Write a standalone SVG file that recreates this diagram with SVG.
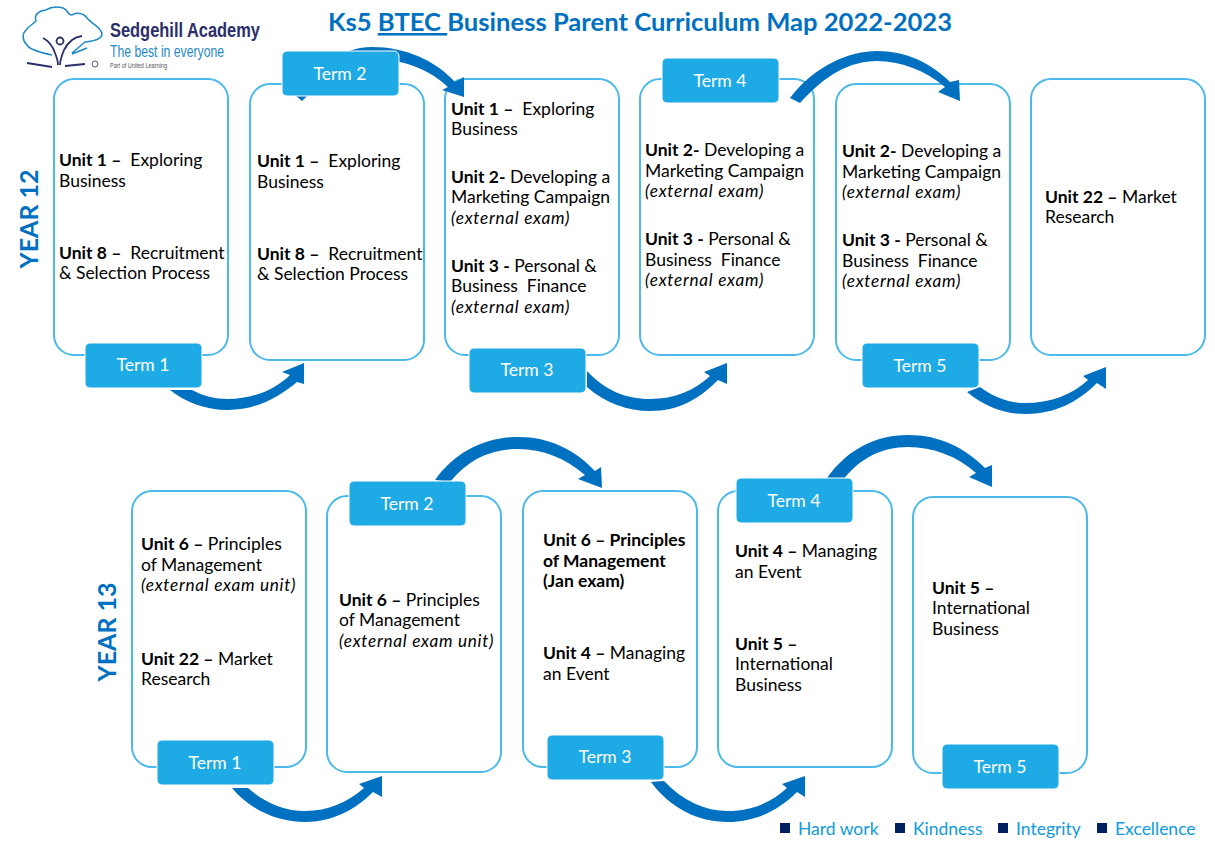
<svg xmlns="http://www.w3.org/2000/svg" width="1215" height="846" viewBox="0 0 1215 846" font-family="Lato, 'Liberation Sans', sans-serif">
<style>
.box{fill:#fff;stroke:#4bb9e9;stroke-width:2}
.term{fill:#1eaae5;stroke:#fff;stroke-width:1}
.tl{fill:#fff;font-size:17.6px;text-anchor:middle}
.t{fill:#000;font-size:17.5px;white-space:pre}
.b{font-weight:700}
.i{font-style:italic;font-size:17.2px;letter-spacing:.72px}
.arr{fill:#0070c0}
.yr{fill:#0070c0;font-size:25px;font-weight:700;text-anchor:middle}
.foot{fill:#0f9ae0;font-size:17.5px}
.sq{fill:#002060}
.lg{font-family:'Liberation Sans',sans-serif}
</style>
<rect width="1215" height="846" fill="#fff"/>
<g id="logo">
<path d="M52,55 C42,53 30,50 27,45 C22,40 22,34 26,30 C29,26 33,24 36,21 C34,15 38,11 46,10 C52,6 62,6 66,10 C68,13 70,15 72,15 C76,12 84,13 87,18 C92,24 102,28 102,34 C102,39 95,41 85,42 C80,46 76,50 72,53 M72,54 L87,48" fill="none" stroke="#1e88c8" stroke-width="1.5"/>
<path d="M43,38 C49,41 53,47 55,53 C57,58 58,62 58,65 M82,36 C74,37 68,42 64,50 C62,55 60,60 60,65 M27,63 L52,67 M65,66 L85,64" fill="none" stroke="#2b2e6b" stroke-width="1.8"/>
<circle cx="60" cy="41" r="3.5" fill="none" stroke="#2b2e6b" stroke-width="1.8"/>
<circle cx="95" cy="64" r="3" fill="none" stroke="#2b2e6b" stroke-width="0.8"/>
<text class="lg" x="110" y="37" font-size="20.5px" font-weight="700" fill="#2b2e6b" textLength="150" lengthAdjust="spacingAndGlyphs">Sedgehill Academy</text>
<text class="lg" x="110" y="57" font-size="16px" fill="#1e88c8" textLength="114" lengthAdjust="spacingAndGlyphs">The best in everyone</text>
<text class="lg" x="110" y="68" font-size="6.5px" fill="#555" textLength="57" lengthAdjust="spacingAndGlyphs">Part of United Learning</text>
</g>
<text id="title" x="640" y="31" text-anchor="middle" font-size="25.6px" font-weight="700" fill="#0070c0">Ks5 <tspan text-decoration="underline">BTEC </tspan>Business Parent Curriculum Map 2022-2023</text>
<text id="year12" class="yr" transform="translate(38,219) rotate(-90)">YEAR 12</text>
<text id="year13" class="yr" transform="translate(116,632) rotate(-90)">YEAR 13</text>

<g id="y12-box1"><rect class="box" x="54" y="79" width="174" height="276" rx="20"/>
<text class="t"><tspan x="59" y="166"><tspan class="b">Unit 1 –</tspan>  Exploring</tspan><tspan x="59" y="187">Business</tspan><tspan x="59" y="259"><tspan class="b">Unit 8 –</tspan>  Recruitment</tspan><tspan x="59" y="279">&amp; Selection Process</tspan></text></g>
<g id="y12-box2"><rect class="box" x="250" y="84" width="174" height="276" rx="20"/>
<text class="t"><tspan x="257" y="167"><tspan class="b">Unit 1 –</tspan>  Exploring</tspan><tspan x="257" y="188">Business</tspan><tspan x="257" y="260"><tspan class="b">Unit 8 –</tspan>  Recruitment</tspan><tspan x="257" y="280">&amp; Selection Process</tspan></text></g>
<g id="y12-box3"><rect class="box" x="445" y="79" width="174" height="276" rx="20"/>
<text class="t"><tspan x="451" y="115"><tspan class="b">Unit 1 –</tspan>  Exploring</tspan><tspan x="451" y="135">Business</tspan><tspan x="451" y="183"><tspan class="b">Unit 2-</tspan> Developing a</tspan><tspan x="451" y="203">Marketing Campaign</tspan><tspan x="451" y="224" class="i">(external exam)</tspan><tspan x="451" y="272"><tspan class="b">Unit 3 -</tspan> Personal &amp;</tspan><tspan x="451" y="292">Business  Finance</tspan><tspan x="451" y="313" class="i">(external exam)</tspan></text></g>
<g id="y12-box4"><rect class="box" x="640" y="79" width="174" height="276" rx="20"/>
<text class="t"><tspan x="645" y="156"><tspan class="b">Unit 2-</tspan> Developing a</tspan><tspan x="645" y="177">Marketing Campaign</tspan><tspan x="645" y="197" class="i">(external exam)</tspan><tspan x="645" y="245"><tspan class="b">Unit 3 -</tspan> Personal &amp;</tspan><tspan x="645" y="266">Business  Finance</tspan><tspan x="645" y="286" class="i">(external exam)</tspan></text></g>
<g id="y12-box5"><rect class="box" x="836" y="84" width="174" height="276" rx="20"/>
<text class="t"><tspan x="842" y="157"><tspan class="b">Unit 2-</tspan> Developing a</tspan><tspan x="842" y="178">Marketing Campaign</tspan><tspan x="842" y="198" class="i">(external exam)</tspan><tspan x="842" y="246"><tspan class="b">Unit 3 -</tspan> Personal &amp;</tspan><tspan x="842" y="267">Business  Finance</tspan><tspan x="842" y="287" class="i">(external exam)</tspan></text></g>
<g id="y12-box6"><rect class="box" x="1031" y="79" width="174" height="276" rx="20"/>
<text class="t"><tspan x="1045" y="203"><tspan class="b">Unit 22 –</tspan> Market</tspan><tspan x="1045" y="223">Research</tspan></text></g>

<g id="y13-box1"><rect class="box" x="132" y="491" width="174" height="276" rx="20"/>
<text class="t"><tspan x="141" y="550"><tspan class="b">Unit 6 –</tspan> Principles</tspan><tspan x="141" y="571">of Management</tspan><tspan x="141" y="591" class="i">(external exam unit)</tspan><tspan x="141" y="665"><tspan class="b">Unit 22 –</tspan> Market</tspan><tspan x="141" y="685">Research</tspan></text></g>
<g id="y13-box2"><rect class="box" x="327" y="496" width="174" height="276" rx="20"/>
<text class="t"><tspan x="339" y="606"><tspan class="b">Unit 6 –</tspan> Principles</tspan><tspan x="339" y="626">of Management</tspan><tspan x="339" y="647" class="i">(external exam unit)</tspan></text></g>
<g id="y13-box3"><rect class="box" x="523" y="491" width="174" height="276" rx="20"/>
<text class="t"><tspan x="543" y="546" class="b">Unit 6 – Principles</tspan><tspan x="543" y="567" class="b">of Management</tspan><tspan x="543" y="587" class="b">(Jan exam)</tspan><tspan x="543" y="659"><tspan class="b">Unit 4 –</tspan> Managing</tspan><tspan x="543" y="680">an Event</tspan></text></g>
<g id="y13-box4"><rect class="box" x="718" y="491" width="174" height="276" rx="20"/>
<text class="t"><tspan x="735" y="557"><tspan class="b">Unit 4 –</tspan> Managing</tspan><tspan x="735" y="578">an Event</tspan><tspan x="735" y="650" class="b">Unit 5 –</tspan><tspan x="735" y="670">International</tspan><tspan x="735" y="691">Business</tspan></text></g>
<g id="y13-box5"><rect class="box" x="913" y="497" width="174" height="276" rx="20"/>
<text class="t"><tspan x="932" y="594" class="b">Unit 5 –</tspan><tspan x="932" y="614">International</tspan><tspan x="932" y="635">Business</tspan></text></g>

<g id="connectors" class="arr">
<path d="M170,390 C185,402 205,410 228,410 C255,410 278,398 297,382 L304,384 L304,363 L282,372 L290,375 C275,390 252,399 228,399 C215,399 203,396 192,390 Z"/>
<path d="M296,96 C315,65 345,47 372,47 C405,47 435,60 455,82 L464,77 L464,97 L442,90 L448,87 C430,70 405,60 380,60 C350,60 328,75 307,96 L302,101 Z"/>
<path d="M587,387 C605,403 628,411 650,411 C680,411 700,398 718,380 L727,384 L727,363 L704,372 L710,376 C695,390 675,399 650,399 C625,399 605,390 587,371 Z"/>
<path d="M790,98 C815,65 850,51 877,51 C905,51 930,62 950,82 L959,80 L960,101 L938,92 L945,87 C925,70 900,61 877,61 C850,61 825,75 800,103 Z"/>
<path d="M967,392 C985,407 1005,414 1025,414 C1055,414 1078,402 1097,383 L1106,389 L1106,367 L1083,376 L1088,380 C1072,395 1050,403 1025,403 C1010,403 995,398 980,387 Z"/>
<path d="M232,788 C250,810 278,822 305,822 C332,822 355,810 373,792 L382,797 L382,776 L359,784 L364,788 C348,802 328,811 305,811 C285,811 265,803 248,788 Z"/>
<path d="M435,480 C455,452 485,437 518,437 C550,437 575,450 595,471 L601,467 L602,488 L578,479 L585,475 C565,458 543,449 518,449 C490,449 468,460 450,482 Z"/>
<path d="M651,782 C670,808 698,822 728,822 C756,822 779,810 797,792 L805,797 L805,776 L782,784 L787,788 C772,802 752,811 728,811 C705,811 683,801 664,781 Z"/>
<path d="M827,478 C847,450 875,435 908,435 C940,435 965,448 985,468 L992,465 L992,487 L969,477 L976,473 C957,456 933,447 908,447 C882,447 860,458 843,480 Z"/>
</g>

<g id="term1a"><rect class="term" x="85" y="343" width="117" height="45" rx="5"/><text class="tl" x="143" y="371">Term 1</text></g>
<g id="term2a"><rect class="term" x="282" y="51" width="117" height="45" rx="5"/><text class="tl" x="340" y="80">Term 2</text></g>
<g id="term3a"><rect class="term" x="469" y="348" width="117" height="45" rx="5"/><text class="tl" x="527" y="376">Term 3</text></g>
<g id="term4a"><rect class="term" x="662" y="58" width="117" height="45" rx="5"/><text class="tl" x="720" y="87">Term 4</text></g>
<g id="term5a"><rect class="term" x="862" y="343" width="117" height="45" rx="5"/><text class="tl" x="920" y="372">Term 5</text></g>
<g id="term1b"><rect class="term" x="157" y="740" width="117" height="45" rx="5"/><text class="tl" x="215" y="769">Term 1</text></g>
<g id="term2b"><rect class="term" x="349" y="481" width="117" height="45" rx="5"/><text class="tl" x="407" y="510">Term 2</text></g>
<g id="term3b"><rect class="term" x="547" y="735" width="117" height="45" rx="5"/><text class="tl" x="605" y="763">Term 3</text></g>
<g id="term4b"><rect class="term" x="736" y="478" width="117" height="45" rx="5"/><text class="tl" x="794" y="507">Term 4</text></g>
<g id="term5b"><rect class="term" x="942" y="744" width="117" height="45" rx="5"/><text class="tl" x="1000" y="773">Term 5</text></g>

<g id="footer">
<rect class="sq" x="780" y="823" width="10" height="10"/><text class="foot" x="798" y="835">Hard work</text>
<rect class="sq" x="895" y="823" width="10" height="10"/><text class="foot" x="913" y="835">Kindness</text>
<rect class="sq" x="998" y="823" width="10" height="10"/><text class="foot" x="1016" y="835">Integrity</text>
<rect class="sq" x="1097" y="823" width="10" height="10"/><text class="foot" x="1115" y="835">Excellence</text>
</g>
</svg>
